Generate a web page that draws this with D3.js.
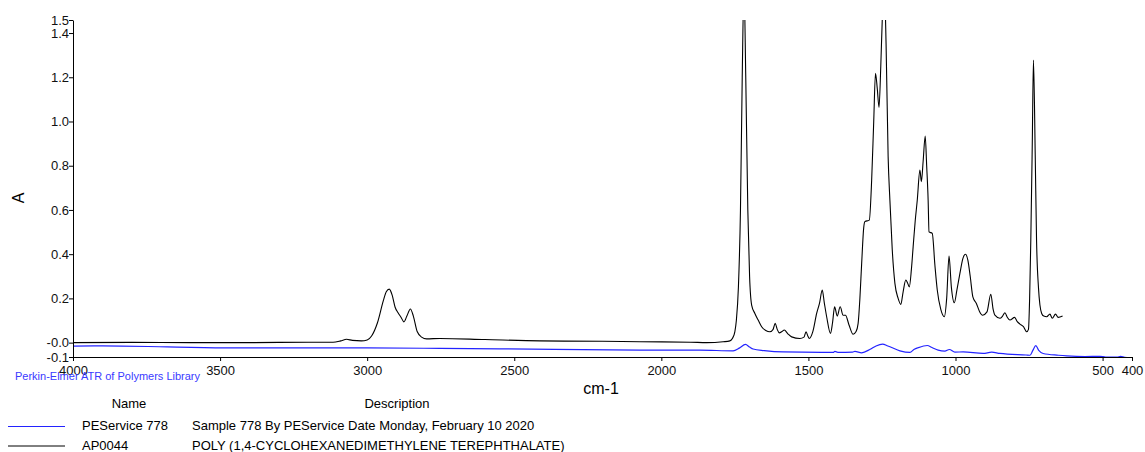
<!DOCTYPE html>
<html>
<head>
<meta charset="utf-8">
<script src="https://cdn.jsdelivr.net/npm/d3@7"></script>
<style>
    body { margin: 0; background: #fff; }
    svg { display: block; font-family: Arial, "Liberation Sans", sans-serif; }
</style>
</head>
<body>
<svg width="1145" height="452"></svg>
<script>
// wavenumber (cm-1), absorbance
const library = [
    [4000, 0.0], [3800, 0.001], [3600, 0.0], [3400, 0.0], [3200, 0.002], [3116, 0.002],
    [3090, 0.008], [3070, 0.015], [3050, 0.01], [3020, 0.008], [3000, 0.012], [2985, 0.03],
    [2965, 0.09], [2945, 0.19], [2935, 0.23], [2925, 0.242], [2915, 0.215], [2905, 0.16],
    [2895, 0.135], [2885, 0.115], [2875, 0.094], [2865, 0.12], [2853, 0.152], [2843, 0.12],
    [2830, 0.05], [2815, 0.025], [2798, 0.017], [2753, 0.019], [2600, 0.014], [2413, 0.008],
    [2200, 0.006], [2073, 0.004], [1900, 0.002], [1846, 0.0], [1790, 0.004], [1767, 0.008],
    [1758, 0.02], [1750, 0.05], [1745, 0.1], [1738, 0.25], [1731, 0.6], [1725, 1.2],
    [1719, 1.62], [1713, 1.2], [1706, 0.6], [1700, 0.3], [1693, 0.17], [1682, 0.132],
    [1670, 0.1], [1659, 0.072], [1645, 0.055], [1631, 0.049], [1620, 0.06], [1613, 0.087],
    [1606, 0.06], [1599, 0.044], [1590, 0.05], [1582, 0.057], [1570, 0.04], [1557, 0.026],
    [1529, 0.019], [1515, 0.025], [1508, 0.049], [1502, 0.03], [1497, 0.019], [1485, 0.05],
    [1472, 0.132], [1462, 0.18], [1453, 0.238], [1446, 0.18], [1438, 0.117], [1425, 0.042],
    [1418, 0.09], [1411, 0.162], [1402, 0.12], [1392, 0.162], [1382, 0.124], [1374, 0.124],
    [1362, 0.08], [1348, 0.038], [1338, 0.05], [1331, 0.087], [1325, 0.2], [1319, 0.358],
    [1312, 0.52], [1308, 0.547], [1293, 0.554], [1285, 0.735], [1278, 1.0], [1272, 1.218],
    [1266, 1.15], [1260, 1.064], [1254, 1.25], [1248, 1.5], [1242, 1.62], [1236, 1.35],
    [1229, 0.84], [1223, 0.644], [1215, 0.42], [1206, 0.268], [1195, 0.2], [1186, 0.173],
    [1178, 0.23], [1169, 0.283], [1163, 0.27], [1157, 0.252], [1150, 0.33], [1144, 0.433],
    [1137, 0.55], [1130, 0.644], [1121, 0.78], [1116, 0.728], [1110, 0.82], [1103, 0.934],
    [1098, 0.8], [1093, 0.644], [1090, 0.501], [1079, 0.494], [1070, 0.35], [1062, 0.238],
    [1050, 0.15], [1038, 0.117], [1030, 0.2], [1022, 0.391], [1014, 0.25], [1004, 0.18],
    [995, 0.24], [985, 0.313], [975, 0.38], [966, 0.4], [958, 0.373], [950, 0.3],
    [941, 0.207], [929, 0.177], [918, 0.14], [908, 0.124], [893, 0.139], [880, 0.219],
    [872, 0.15], [866, 0.124], [849, 0.11], [840, 0.12], [832, 0.135], [824, 0.115],
    [815, 0.102], [799, 0.114], [790, 0.095], [781, 0.084], [769, 0.072], [758, 0.049],
    [752, 0.06], [748, 0.2], [744, 0.464], [739, 0.9], [735, 1.278], [729, 0.85],
    [724.5, 0.464], [718, 0.25], [713, 0.17], [707, 0.132], [700, 0.12], [690, 0.117],
    [679, 0.129], [671, 0.11], [660, 0.129], [651, 0.114], [636, 0.12]
];

const sample = [
    [4000, -0.016], [3900, -0.015], [3680, -0.019], [3456, -0.024], [3000, -0.024],
    [2753, -0.026], [2549, -0.028], [2073, -0.034], [1869, -0.034], [1756, -0.037],
    [1735, -0.025], [1714, -0.008], [1700, -0.02], [1688, -0.029], [1650, -0.036],
    [1586, -0.042], [1416, -0.044], [1410, -0.04], [1400, -0.044], [1350, -0.043],
    [1342, -0.04], [1319, -0.046], [1290, -0.03], [1270, -0.015], [1248, -0.007],
    [1230, -0.015], [1189, -0.037], [1155, -0.044], [1140, -0.03], [1127, -0.023],
    [1096, -0.013], [1080, -0.022], [1059, -0.034], [1036, -0.038], [1021, -0.031],
    [1002, -0.043], [974, -0.042], [906, -0.049], [877, -0.043], [849, -0.049],
    [760, -0.056], [747, -0.057], [737, -0.035], [727, -0.014], [717, -0.035],
    [702, -0.049], [650, -0.057], [622, -0.06], [560, -0.063], [509, -0.062],
    [490, -0.065], [450, -0.066], [439, -0.062], [425, -0.066], [400, -0.068]
];

const xTicks = [4000, 3500, 3000, 2500, 2000, 1500, 1000, 500, 400];
const yTicks = [-0.065, 0, 0.2, 0.4, 0.6, 0.8, 1.0, 1.2, 1.4, 1.459];
const yTickLabels = ["-0.1", "-0.0", "0.2", "0.4", "0.6", "0.8", "1.0", "1.2", "1.4", "1.5"];

const legendNames = ["PEService 778", "AP0044"];
const legendDescriptions = [
    "Sample 778 By PEService Date Monday, February 10 2020",
    "POLY (1,4-CYCLOHEXANEDIMETHYLENE TEREPHTHALATE)"
];
const legendColors = ["#2323ff", "#000"];

const plotLeft = 73, plotRight = 1132, plotTop = 20, plotBottom = 357;

const svg = d3.select("svg");

const x = d3.scaleLinear().domain([4000, 400]).range([plotLeft, plotRight]);
const y = d3.scaleLinear().domain([-0.065, 1.459]).range([plotBottom, plotTop]);

svg.append("clipPath")
    .attr("id", "plot")
    .append("rect")
    .attr("x", plotLeft).attr("y", plotTop)
    .attr("width", plotRight - plotLeft).attr("height", plotBottom - plotTop);

const line = d3.line()
    .x(d => x(d[0]))
    .y(d => y(d[1]))
    .curve(d3.curveMonotoneX);

const plot = svg.append("g").attr("clip-path", "url(#plot)");

plot.append("path")
    .datum(sample)
    .attr("fill", "none")
    .attr("stroke", legendColors[0])
    .attr("stroke-width", 1.2)
    .attr("d", line);

plot.append("path")
    .datum(library)
    .attr("fill", "none")
    .attr("stroke", legendColors[1])
    .attr("stroke-width", 1.1)
    .attr("d", line);

// axes
const xAxis = svg.append("g")
    .attr("transform", `translate(0,${plotBottom})`)
    .call(d3.axisBottom(x).tickValues(xTicks).tickFormat(d3.format("d")).tickSize(4).tickSizeOuter(0));

const yAxis = svg.append("g")
    .attr("transform", `translate(${plotLeft},0)`)
    .call(d3.axisLeft(y).tickValues(yTicks).tickFormat((d, i) => yTickLabels[i]).tickSize(4).tickSizeOuter(0));

svg.selectAll(".tick text")
    .attr("fill", "#111")
    .style("font-size", "13px")
    .style("font-family", "Arial, 'Liberation Sans', sans-serif");
xAxis.selectAll(".tick text").attr("dy", "0.95em").attr("y", 6);
yAxis.selectAll(".tick text").attr("x", -4);
svg.selectAll(".domain, .tick line").attr("stroke", "#000");

svg.append("text")
    .attr("transform", "translate(24,198) rotate(-90)")
    .attr("text-anchor", "middle")
    .style("font-size", "16px")
    .text("A");

svg.append("text")
    .attr("x", 601).attr("y", 394)
    .attr("text-anchor", "middle")
    .style("font-size", "16px")
    .text("cm-1");

svg.append("text")
    .attr("x", 15).attr("y", 380)
    .attr("fill", "#3a3aff")
    .style("font-size", "11px")
    .text("Perkin-Elmer ATR of Polymers Library");

// legend table
svg.append("text")
    .attr("x", 129).attr("y", 408)
    .attr("text-anchor", "middle")
    .style("font-size", "13px")
    .text("Name");

svg.append("text")
    .attr("x", 397).attr("y", 408)
    .attr("text-anchor", "middle")
    .style("font-size", "13px")
    .text("Description");

const rows = svg.append("g")
    .selectAll("g")
    .data(legendNames)
    .join("g")
    .attr("transform", (d, i) => `translate(0,${430 + i * 19.5})`);

rows.append("line")
    .attr("x1", 8).attr("x2", 65)
    .attr("y1", -3.5).attr("y2", -3.5)
    .attr("stroke", (d, i) => legendColors[i])
    .attr("stroke-width", 1);

rows.append("text")
    .attr("x", 82)
    .style("font-size", "13px")
    .text(d => d);

rows.append("text")
    .attr("x", 192)
    .style("font-size", "13px")
    .text((d, i) => legendDescriptions[i]);
</script>
</body>
</html>
